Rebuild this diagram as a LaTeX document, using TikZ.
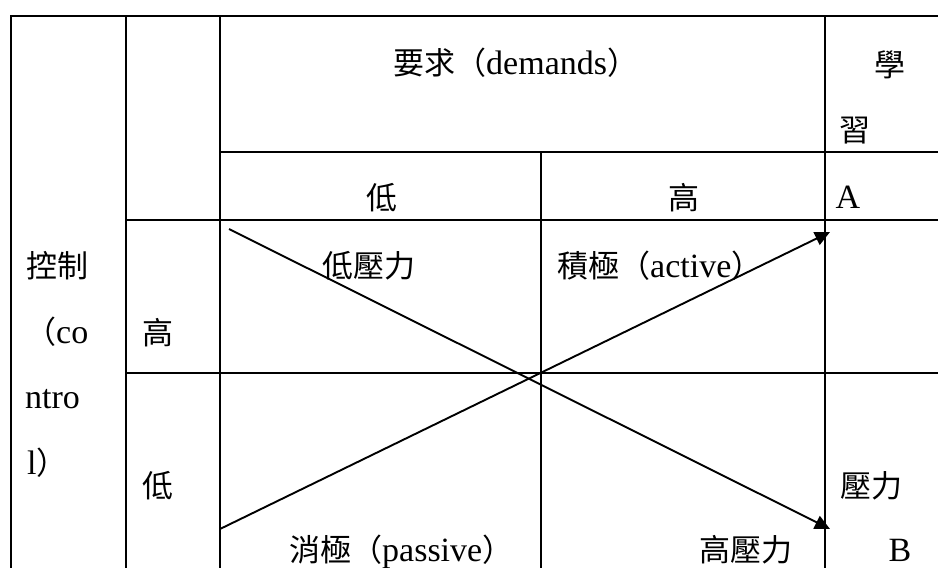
\documentclass[tikz,border=0pt]{standalone}
\usepackage{fontspec}
\setmainfont{Liberation Serif}
\newfontfamily\cjk{Noto Sans CJK TC}
\usetikzlibrary{arrows.meta}
\newcommand\zh[1]{{\cjk\fontsize{31}{36}\selectfont #1}}
\tikzset{
  grid/.style={line width=1.9pt, line cap=rect},
  txt/.style={inner sep=0pt, anchor=base west, font=\fontsize{34}{40}\selectfont},
  ctxt/.style={txt, anchor=base},
  arr/.style={line width=1.9pt, -{Triangle[length=15pt,width=14pt]}}
}
\begin{document}
\begin{tikzpicture}[x=1pt,y=-1pt]
\useasboundingbox (0,0) rectangle (938,568);
\fill[white] (0,0) rectangle (938,568);
% table lines
\draw[grid] (11,16) -- (938,16);
\draw[grid] (220,152) -- (938,152);
\draw[grid] (126,220) -- (938,220);
\draw[grid] (126,373) -- (938,373);
\draw[grid] (11,16) -- (11,570);
\draw[grid] (126,16) -- (126,570);
\draw[grid] (220,16) -- (220,570);
\draw[grid] (541,152) -- (541,570);
\draw[grid] (825,16) -- (825,570);
% texts
\node[txt] (req) at (393,74) {\zh{要求（}demands\zh{）}};
\node[ctxt] (xue) at (890,76) {\zh{學}};
\node[ctxt] (xi) at (855,141) {\zh{習}};
\node[ctxt] (dlow) at (382,209) {\zh{低}};
\node[ctxt] (dhigh) at (684,209) {\zh{高}};
\node[ctxt] (A) at (848,208) {A};
\node[txt] (lowstress) at (322,277) {\zh{低壓力}};
\node[txt] (active) at (557,277) {\zh{積極（}active\zh{）}};
\node[txt] (ctrl) at (26,277) {\zh{控制}};
\node[txt] (co) at (25,343) {\zh{（}co};
\node[txt] (ntro) at (25,408) {ntro};
\node[txt] (l) at (27,474) {l\zh{）}};
\node[txt] (chigh) at (142,344) {\zh{高}};
\node[txt] (clow) at (142,497) {\zh{低}};
\node[txt] (stress) at (840,497) {\zh{壓力}};
\node[txt] (passive) at (289,561) {\zh{消極（}passive\zh{）}};
\node[txt] (highstress) at (699,561) {\zh{高壓力}};
\node[ctxt] (B) at (900,561) {B};
% arrows
\coordinate (s1) at (229,229);
\coordinate (e1) at (830,529);
\coordinate (s2) at (220,529);
\coordinate (e2) at (830,232);
\draw[arr] (s1) -- (e1);
\draw[arr] (s2) -- (e2);
\end{tikzpicture}
\end{document}
